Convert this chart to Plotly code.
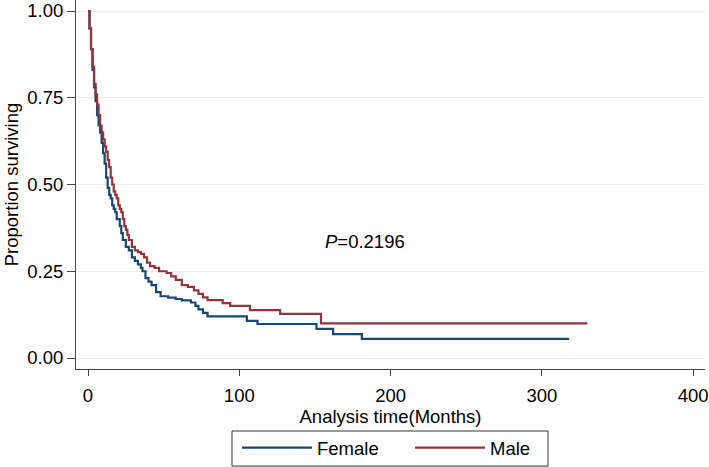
import plotly.graph_objects as go

# Kaplan-Meier step data
female_time = [0, 1, 2, 3, 4, 5, 6, 7, 8, 9, 10, 11, 12, 13, 14, 15, 16, 17, 18, 19,
               21, 22, 23, 25, 27, 29, 31, 33, 35, 36, 38, 40, 42, 45, 48, 53, 58,
               62, 68, 71, 73, 76, 79, 105, 112, 151, 162, 181, 318]
female_surv = [1.0, 0.95, 0.89, 0.83, 0.78, 0.74, 0.70, 0.67, 0.65, 0.62, 0.59, 0.56,
               0.52, 0.49, 0.47, 0.46, 0.44, 0.43, 0.42, 0.40, 0.38, 0.36, 0.34, 0.32,
               0.31, 0.29, 0.28, 0.27, 0.26, 0.25, 0.23, 0.22, 0.21, 0.19, 0.178, 0.174,
               0.17, 0.166, 0.16, 0.15, 0.14, 0.13, 0.12, 0.107, 0.098, 0.084, 0.069,
               0.055, 0.055]

male_time = [0, 1, 2, 3, 4, 5, 6, 7, 8, 9, 10, 11, 12, 13, 14, 15, 16, 17, 18, 19,
             20, 21, 22, 23, 24, 25, 26, 27, 29, 31, 33, 35, 37, 39, 41, 44, 47, 52,
             55, 58, 62, 66, 70, 73, 76, 79, 89, 94, 107, 127, 154, 330]
male_surv = [1.0, 0.95, 0.89, 0.84, 0.79, 0.76, 0.73, 0.70, 0.67, 0.65, 0.63, 0.61,
             0.595, 0.57, 0.55, 0.52, 0.50, 0.48, 0.47, 0.46, 0.44, 0.43, 0.42, 0.40,
             0.38, 0.37, 0.355, 0.34, 0.32, 0.31, 0.305, 0.30, 0.29, 0.275, 0.265,
             0.26, 0.25, 0.245, 0.235, 0.225, 0.21, 0.205, 0.195, 0.185, 0.175, 0.167,
             0.158, 0.15, 0.138, 0.127, 0.10, 0.10]

y_ticks = [0, 0.25, 0.5, 0.75, 1.0]
x_ticks = [0, 100, 200, 300, 400]
p_label = "<i>P</i>=0.2196"

FONT = "Liberation Sans, Arial, sans-serif"
FS = 18.5
fig = go.Figure()
fig.add_trace(go.Scatter(x=female_time, y=female_surv, mode="lines", name="Female",
                         legend="legend",
                         line=dict(color="#1a476f", width=2.2, shape="hv")))
fig.add_trace(go.Scatter(x=male_time, y=male_surv, mode="lines", name="Male",
                         legend="legend2",
                         line=dict(color="#90353b", width=2.2, shape="hv")))

fig.add_annotation(x=183, y=0.337, text=p_label, showarrow=False,
                   font=dict(size=FS, color="#000", family=FONT))

# legend frame (paper coordinates of the plot area)
fig.add_shape(type="rect", xref="paper", yref="paper",
              x0=0.248, x1=0.7504, y0=-0.168, y1=-0.263,
              line=dict(color="#333", width=1), fillcolor="rgba(0,0,0,0)")

leg_common = dict(orientation="h", xanchor="left", yanchor="middle", y=-0.2154,
                  bgcolor="rgba(0,0,0,0)", borderwidth=0, font=dict(size=FS),
                  itemwidth=70)
fig.update_layout(
    width=709, height=467,
    margin=dict(l=76, r=4, t=0, b=98),
    paper_bgcolor="white", plot_bgcolor="white",
    font=dict(family=FONT, size=FS, color="#000"),
    showlegend=True,
    legend=dict(x=0.2560, **leg_common),
    legend2=dict(x=0.5310, **leg_common),
)
fig.update_xaxes(range=[-7.93, 407.8], tickvals=x_ticks, showgrid=False, zeroline=False,
                 automargin=False,
                 showline=True, linecolor="#444", linewidth=1,
                 ticks="outside", ticklen=6, tickcolor="#444",
                 ticklabeloverflow="allow", ticklabelstandoff=4,
                 title=dict(text="Analysis time(Months)", standoff=0, font=dict(size=FS)),
                 tickfont=dict(size=FS))
fig.update_yaxes(range=[-0.0317, 1.0317], tickvals=y_ticks, tickformat=".2f",
                 showgrid=True, gridcolor="#e6eef1", gridwidth=1, zeroline=False,
                 automargin=False,
                 showline=True, linecolor="#444", linewidth=1,
                 ticks="outside", ticklen=8, tickcolor="#444",
                 title=dict(text="Proportion surviving", standoff=3, font=dict(size=FS)),
                 tickfont=dict(size=FS))

fig.write_html("out.html", config={"displayModeBar": False},
               post_script="document.body.style.margin='0px';")
